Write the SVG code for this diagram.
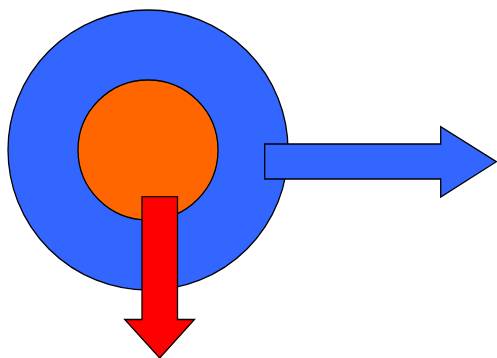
<svg xmlns="http://www.w3.org/2000/svg" width="497" height="358" viewBox="0 0 497 358">
<style>
.s{stroke:#000;stroke-width:1.3;stroke-linejoin:miter}
</style>
<rect width="497" height="358" fill="#fff"/>
<g id="outer-circle"><circle class="s" cx="148" cy="150" r="140" fill="#3366FF"/></g>
<g id="inner-circle"><circle class="s" cx="148" cy="150" r="70" fill="#FF6600"/></g>
<g id="connectors">
<path id="arrow-right" class="s" fill="#3366FF" d="M264.7,144 H440.7 V126.7 L496.3,161.7 L440.7,197 V179 H264.7 Z"/>
<path id="arrow-down" class="s" fill="#FF0000" d="M142,196.7 H177.5 V319.5 H194.5 L159.7,358 L124.7,319.5 H142 Z"/>
</g>
</svg>
